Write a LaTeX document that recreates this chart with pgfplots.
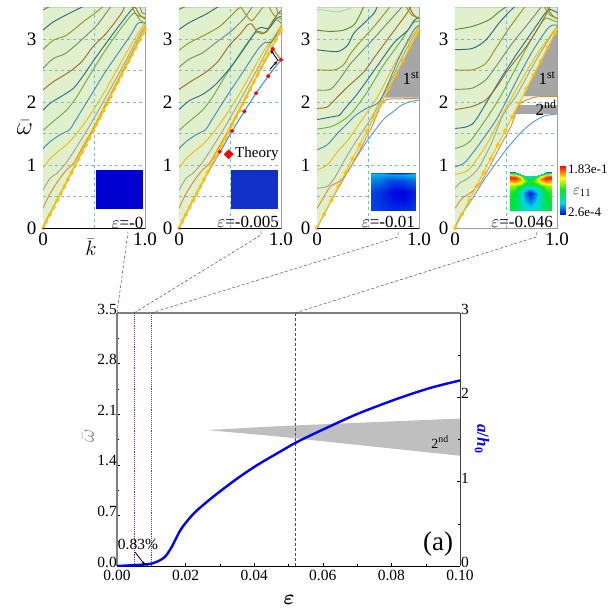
\documentclass[border=0pt]{standalone}
\usepackage{amsmath}
\usepackage{pgfplots}
\usepackage{pgfplotstable}
\usepackage{fontspec}
\setmainfont{Liberation Serif}
\pgfplotsset{compat=1.18}
\usetikzlibrary{arrows.meta}
\definecolor{c0}{HTML}{5B9BD5}
\definecolor{c1}{HTML}{E08A3C}
\definecolor{c2}{HTML}{A0A890}
\definecolor{c3}{HTML}{EDBE1A}
\definecolor{c4}{HTML}{4A8DB5}
\definecolor{c5}{HTML}{70AD47}
\definecolor{c6}{HTML}{2F6F90}
\definecolor{c7}{HTML}{A06E28}
\definecolor{c8}{HTML}{7E8C6C}
\definecolor{c9}{HTML}{9C9420}
\definecolor{c10}{HTML}{2D6C80}
\definecolor{c11}{HTML}{5F8C32}
\definecolor{lightg}{HTML}{E0F0CD}
\definecolor{gridc}{HTML}{7FB8DE}
\definecolor{gapg}{HTML}{A6A6A6}
\definecolor{purp}{HTML}{7030A0}
\definecolor{yel}{HTML}{FFC000}
\pgfplotsset{
  colormap={abq}{rgb255=(0,0,225) rgb255=(0,215,235) rgb255=(0,230,40) rgb255=(255,255,0) rgb255=(255,0,0)},
  panel/.style={
    at={(#1pt,380pt)},anchor=south west,scale only axis,width=102pt,height=220.5pt,
    xmin=0,xmax=1,ymin=0,ymax=3.5,
    xtick={0,1},xticklabels={0,1.0},ytick={0,1,2,3},
    major tick length=0pt,
    tick label style={font=\fontsize{19}{19}\selectfont},
    /pgf/number format/assume math mode=true,
    yticklabel style={xshift=-3pt},
    xticklabel style={yshift=-1pt},
    axis line style={draw=gray!75,line width=0.9pt},
    every axis plot/.append style={line width=0.95pt},
    axis on top=false,
    clip=true,
  },
  curve/.style={smooth,tension=0.45,color=#1,mark=none},
  inset/.style={anchor=south west,scale only axis,hide axis,view={0}{90},
    xmin=0,xmax=1,ymin=0,ymax=1,colormap name=abq,point meta min=0,point meta max=1},
}
\pgfplotstableread{
k w
0 0
0.035 0.11
0.07 0.22
0.105 0.33
0.14 0.44
0.175 0.55
0.21 0.66
0.245 0.77
0.28 0.88
0.315 0.99
0.35 1.10
0.385 1.21
0.42 1.32
0.455 1.43
0.49 1.54
0.525 1.65
0.56 1.76
0.595 1.87
0.63 1.98
0.665 2.09
0.70 2.21
0.735 2.32
0.77 2.43
0.805 2.54
0.84 2.65
0.875 2.76
0.91 2.87
0.945 2.98
0.98 3.09
1 3.15
}\lineT
\pgfplotstableread{
x t y z
0 1 0 0.08
0.25 0.995 0 0.07
0.5 0.985 0 0.05
0.75 0.985 0 0.06
1 1 0 0.08
0 1 0.3 0.08
0.25 0.995 0.3 0.05
0.5 0.985 0.3 0.02
0.75 0.985 0.3 0.01
1 1 0.3 0.05
0 1 0.5 0.09
0.25 0.995 0.5 0.05
0.5 0.985 0.5 0.01
0.75 0.985 0.5 0.00
1 1 0.5 0.05
0 1 0.8 0.16
0.25 0.995 0.8 0.13
0.5 0.985 0.8 0.09
0.75 0.985 0.8 0.10
1 1 0.8 0.14
0 1 0.95 0.22
0.25 0.995 0.95 0.21
0.5 0.985 0.95 0.19
0.75 0.985 0.95 0.20
1 1 0.95 0.23
0 1 1 0.05
0.25 0.995 1 0.05
0.5 0.985 1 0.05
0.75 0.985 1 0.05
1 1 1 0.05
}\tabC
\pgfplotstableread{
x t y z
0 1 0 0.45
0.125 0.98 0 0.42
0.25 0.94 0 0.38
0.375 0.90 0 0.32
0.5 0.885 0 0.30
0.625 0.90 0 0.32
0.75 0.94 0 0.38
0.875 0.98 0 0.42
1 1 0 0.45
0 1 0.15 0.50
0.125 0.98 0.15 0.45
0.25 0.94 0.15 0.36
0.375 0.90 0.15 0.26
0.5 0.885 0.15 0.22
0.625 0.90 0.15 0.26
0.75 0.94 0.15 0.36
0.875 0.98 0.15 0.45
1 1 0.15 0.50
0 1 0.3 0.52
0.125 0.98 0.3 0.46
0.25 0.94 0.3 0.34
0.375 0.90 0.3 0.20
0.5 0.885 0.3 0.12
0.625 0.90 0.3 0.20
0.75 0.94 0.3 0.34
0.875 0.98 0.3 0.46
1 1 0.3 0.52
0 1 0.5 0.55
0.125 0.98 0.5 0.50
0.25 0.94 0.5 0.34
0.375 0.90 0.5 0.15
0.5 0.885 0.5 0.02
0.625 0.90 0.5 0.15
0.75 0.94 0.5 0.34
0.875 0.98 0.5 0.50
1 1 0.5 0.55
0 1 0.64 0.66
0.125 0.98 0.64 0.62
0.25 0.94 0.64 0.46
0.375 0.90 0.64 0.30
0.5 0.885 0.64 0.20
0.625 0.90 0.64 0.30
0.75 0.94 0.64 0.46
0.875 0.98 0.64 0.62
1 1 0.64 0.66
0 1 0.76 0.85
0.125 0.98 0.76 0.84
0.25 0.94 0.76 0.72
0.375 0.90 0.76 0.50
0.5 0.885 0.76 0.42
0.625 0.90 0.76 0.50
0.75 0.94 0.76 0.72
0.875 0.98 0.76 0.84
1 1 0.76 0.85
0 1 0.86 0.98
0.125 0.98 0.86 0.98
0.25 0.94 0.86 0.88
0.375 0.90 0.86 0.60
0.5 0.885 0.86 0.50
0.625 0.90 0.86 0.60
0.75 0.94 0.86 0.88
0.875 0.98 0.86 0.98
1 1 0.86 0.98
0 1 0.94 0.72
0.125 0.98 0.94 0.80
0.25 0.94 0.94 0.72
0.375 0.90 0.94 0.52
0.5 0.885 0.94 0.42
0.625 0.90 0.94 0.52
0.75 0.94 0.94 0.72
0.875 0.98 0.94 0.80
1 1 0.94 0.72
0 1 1 0.10
0.125 0.98 1 0.14
0.25 0.94 1 0.18
0.375 0.90 1 0.22
0.5 0.885 1 0.26
0.625 0.90 1 0.22
0.75 0.94 1 0.18
0.875 0.98 1 0.14
1 1 1 0.10
}\tabD
\pgfplotstableread{
x y z
0 0 0
1 0 0
0 0.125 0.125
1 0.125 0.125
0 0.25 0.25
1 0.25 0.25
0 0.375 0.375
1 0.375 0.375
0 0.5 0.5
1 0.5 0.5
0 0.625 0.625
1 0.625 0.625
0 0.75 0.75
1 0.75 0.75
0 0.875 0.875
1 0.875 0.875
0 1 1
1 1 1
}\tabBar
\newcommand\backdrop{%
  \addplot[draw=none,fill=lightg] coordinates {(0,0)(1,3.15)(1,3.5)(0,3.5)};
}
\newcommand\gridl{%
  \addplot[gridc,dashed,line width=0.7pt] coordinates {(0,0.5)(1,0.5)};
  \addplot[gridc,dashed,line width=0.7pt] coordinates {(0,1)(1,1)};
  \addplot[gridc,dashed,line width=0.7pt] coordinates {(0,1.5)(1,1.5)};
  \addplot[gridc,dashed,line width=0.7pt] coordinates {(0,2)(1,2)};
  \addplot[gridc,dashed,line width=0.7pt] coordinates {(0,2.5)(1,2.5)};
  \addplot[gridc,dashed,line width=0.7pt] coordinates {(0,3)(1,3)};
  \addplot[gridc,dashed,line width=0.7pt] coordinates {(0.5,0)(0.5,3.5)};
}
\newcommand\denseY{%
  \addplot[yel,line width=1.3pt,mark=diamond*,mark size=1.6pt,mark options={solid,fill=yel,draw=yel}] table[x=k,y=w]{\lineT};
}
\newcommand\sparseY{%
  \addplot[yel,line width=1.1pt,mark=none] table[x=k,y=w]{\lineT};
  \addplot[yel,only marks,mark=o,mark size=1.7pt,each nth point=2,mark options={solid,line width=0.8pt}] table[x=k,y=w]{\lineT};
}
\begin{document}
\begin{tikzpicture}
\path[use as bounding box] (0pt,0pt) rectangle (610pt,608pt);
% ---------- panel 1
\begin{axis}[panel=43]
\backdrop
\gridl
\addplot[curve=c0] coordinates {(0,0)(0.03,0.12)(0.08,0.27)(0.2,0.64)(0.5,1.58)(0.8,2.53)(1,3.16)};
\addplot[curve=c1] coordinates {(0,0.31)(0.03,0.42)(0.07,0.55)(0.12,0.68)(0.17,0.8)(0.23,0.92)(0.3,1.03)(0.4,1.32)(0.5,1.61)(0.7,2.24)(0.9,2.87)(1,3.18)};
\addplot[curve=c2] coordinates {(0,0.6)(0.07,0.79)(0.13,0.86)(0.21,1)(0.3,1.21)(0.46,1.63)(0.6,2.03)(0.8,2.62)(0.95,3.08)(1,3.2)};
\addplot[curve=c3] coordinates {(0,0.95)(0.07,1.1)(0.167,1.24)(0.23,1.32)(0.33,1.5)(0.46,1.79)(0.6,2.15)(0.8,2.73)(0.95,3.14)(1,3.25)};
\addplot[curve=c4] coordinates {(0,1.26)(0.07,1.37)(0.167,1.48)(0.26,1.56)(0.32,1.71)(0.46,2.08)(0.62,2.5)(0.85,3.04)(0.93,3.25)(1,3.25)};
\addplot[curve=c5] coordinates {(0,1.55)(0.1,1.69)(0.23,1.87)(0.33,2.08)(0.43,2.35)(0.59,2.77)(0.75,3.14)(0.89,3.41)(0.95,3.3)(1,3.25)};
\addplot[curve=c6] coordinates {(0,1.87)(0.07,1.98)(0.17,2.08)(0.3,2.22)(0.4,2.43)(0.51,2.69)(0.69,3.09)(0.85,3.43)(0.9,3.52)};
\addplot[curve=c7] coordinates {(0,2.19)(0.1,2.32)(0.26,2.48)(0.38,2.64)(0.49,2.88)(0.62,3.09)(0.77,3.41)(0.8,3.52)};
\addplot[curve=c8] coordinates {(0,2.53)(0.1,2.69)(0.22,2.77)(0.36,2.96)(0.53,3.22)(0.64,3.46)(0.67,3.52)};
\addplot[curve=c9] coordinates {(0,2.83)(0.1,2.98)(0.23,3.06)(0.4,3.28)(0.51,3.41)(0.59,3.52)};
\addplot[curve=c10] coordinates {(0,3.14)(0.1,3.27)(0.26,3.41)(0.4,3.52)};
\addplot[curve=c11] coordinates {(0,3.46)(0.07,3.52)};
\addplot[curve=c7] coordinates {(0.9,3.52)(0.95,3.38)(1,3.32)};
\addplot[curve=c9] coordinates {(0.87,3.52)(0.92,3.38)(1,3.34)};
\addplot[curve=c8] coordinates {(0.95,3.52)(0.97,3.42)(1,3.4)};
\denseY
\addplot[draw=none,fill={rgb,255:red,0;green,0;blue,208}] coordinates {(0.517,0.3)(0.983,0.3)(0.983,0.92)(0.517,0.92)};
\end{axis}
% ---------- panel 2
\begin{axis}[panel=179]
\backdrop
\gridl
\addplot[curve=c0] coordinates {(0,0)(0.05,0.17)(0.2,0.64)(0.4,1.2)(0.52,1.54)(0.64,1.85)(0.755,2.14)(0.875,2.41)(1,2.67)};
\addplot[curve=c1] coordinates {(0,0.31)(0.03,0.42)(0.07,0.55)(0.12,0.68)(0.17,0.8)(0.23,0.92)(0.3,1.03)(0.4,1.31)(0.5,1.6)(0.7,2.22)(0.88,2.75)(0.92,2.84)};
\addplot[c1,mark=none] coordinates {(0.92,2.84)(1,2.67)};
\addplot[curve=c2] coordinates {(0,0.6)(0.07,0.79)(0.13,0.86)(0.21,1)(0.3,1.21)(0.46,1.63)(0.6,2.03)(0.8,2.62)(0.92,3)(1,3.2)};
\addplot[curve=c3] coordinates {(0,0.95)(0.07,1.1)(0.167,1.24)(0.23,1.32)(0.33,1.5)(0.46,1.79)(0.6,2.15)(0.8,2.72)(0.9,2.98)(0.95,3.05)(1,3.22)};
\addplot[curve=c4] coordinates {(0,1.26)(0.07,1.37)(0.167,1.48)(0.26,1.56)(0.32,1.71)(0.46,2.07)(0.62,2.46)(0.78,2.85)(0.85,2.95)(0.9,2.94)(0.95,3.05)(1,3.18)};
\addplot[curve=c5] coordinates {(0,1.55)(0.1,1.69)(0.23,1.87)(0.33,2.08)(0.43,2.35)(0.59,2.75)(0.72,3.05)(0.78,3.12)(0.85,3.1)(0.95,3.3)(1,3.25)};
\addplot[curve=c6] coordinates {(0,1.88)(0.1,2.02)(0.23,2.12)(0.36,2.28)(0.53,2.6)(0.69,2.97)(0.77,3.16)(0.82,3.18)(0.88,3.17)(0.95,3.32)(1,3.36)};
\addplot[curve=c7] coordinates {(0,2.2)(0.1,2.31)(0.26,2.47)(0.38,2.64)(0.49,2.89)(0.6,3.08)(0.67,3.22)(0.71,3.24)(0.76,3.13)(0.81,3.08)(0.86,3.13)(0.92,3.29)(0.98,3.42)(1,3.45)};
\addplot[curve=c8] coordinates {(0,2.55)(0.1,2.68)(0.23,2.78)(0.36,2.94)(0.53,3.15)(0.65,3.35)(0.72,3.52)};
\addplot[curve=c9] coordinates {(0,2.82)(0.1,2.94)(0.26,3.07)(0.4,3.2)(0.51,3.37)(0.6,3.5)(0.65,3.4)(0.71,3.29)(0.76,3.37)(0.83,3.52)};
\addplot[curve=c10] coordinates {(0,3.15)(0.1,3.26)(0.26,3.39)(0.39,3.52)};
\addplot[curve=c11] coordinates {(0,3.47)(0.07,3.52)};
\addplot[curve=c9] coordinates {(0.88,3.52)(0.93,3.38)(1,3.32)};
\addplot[curve=c8] coordinates {(0.95,3.52)(0.97,3.42)(1,3.4)};
\addplot[yel,line width=1.3pt,mark=diamond*,mark size=1.6pt,mark options={solid,fill=yel,draw=yel}] table[x=k,y=w]{\lineT};
\addplot[c0,mark=none] coordinates {(0.4,1.2)(0.52,1.54)(0.64,1.85)(0.755,2.14)(0.875,2.41)(1,2.67)};
\addplot[c1,mark=none,line width=1.3pt] coordinates {(0.92,2.84)(1,2.67)};
\addplot[only marks,mark=*,mark size=1.5pt,color=red] coordinates {(0.4,1.21)(0.52,1.54)(0.64,1.85)(0.755,2.14)(0.875,2.41)(1,2.67)(0.92,2.84)};
\addplot[only marks,mark=square*,mark size=3pt,color=red,mark options={rotate=45}] coordinates {(0.487,1.17)};
\addplot[draw=none,fill={rgb,255:red,16;green,48;blue,200}] coordinates {(0.513,0.3)(0.97,0.3)(0.97,0.92)(0.513,0.92)};
\end{axis}
% ---------- panel 3
\begin{axis}[panel=317]
\backdrop
\addplot[draw=none,fill=gapg] coordinates {(0.66,2.07)(1,3.15)(1,2.07)};
\gridl
\addplot[curve=c0] coordinates {(0,0)(0.1,0.31)(0.2,0.61)(0.36,1.05)(0.5,1.4)(0.65,1.72)(0.75,1.85)(0.81,1.93)(0.9,2)(1,2.03)};
\addplot[curve=c1] coordinates {(0,0.31)(0.07,0.5)(0.13,0.66)(0.22,0.74)(0.3,0.89)(0.4,1.18)(0.53,1.58)(0.6,1.85)(0.65,2.01)(0.72,2.05)(0.81,2.05)(1,2.06)};
\addplot[curve=c2] coordinates {(0,0.63)(0.1,0.66)(0.17,0.79)(0.26,1.05)(0.36,1.32)(0.53,1.74)(0.7,2.26)(0.85,2.76)(1,3.2)};
\addplot[curve=c3] coordinates {(0,0.92)(0.1,1)(0.2,1.21)(0.3,1.39)(0.4,1.62)(0.48,1.81)(0.6,2.1)(0.8,2.72)(1,3.2)};
\addplot[curve=c4] coordinates {(0,1.24)(0.1,1.32)(0.2,1.5)(0.3,1.66)(0.38,1.79)(0.485,1.9)(0.62,2.03)(0.81,2.72)(0.94,3.12)(1,3.22)};
\addplot[curve=c5] coordinates {(0,1.57)(0.157,1.62)(0.32,1.79)(0.485,2.14)(0.65,2.58)(0.81,2.94)(0.94,3.25)(1,3.28)};
\addplot[curve=c6] coordinates {(0,1.72)(0.13,1.76)(0.22,1.79)(0.26,1.87)(0.4,2.14)(0.59,2.57)(0.75,2.93)(0.89,3.14)(0.95,3.29)(1,3.35)};
\addplot[curve=c7] coordinates {(0,1.9)(0.1,1.92)(0.2,2.08)(0.3,2.24)(0.46,2.48)(0.59,2.77)(0.75,3.12)(0.87,3.38)(0.92,3.52)};
\addplot[curve=c8] coordinates {(0,2.19)(0.13,2.2)(0.23,2.38)(0.33,2.61)(0.53,2.96)(0.69,3.25)(0.84,3.52)};
\addplot[curve=c9] coordinates {(0,2.51)(0.17,2.51)(0.26,2.59)(0.33,2.77)(0.41,2.93)(0.56,3.2)(0.72,3.52)};
\addplot[curve=c10] coordinates {(0,2.83)(0.2,2.8)(0.3,2.9)(0.36,3.09)(0.46,3.25)(0.56,3.41)(0.59,3.52)};
\addplot[curve=c11] coordinates {(0,3.14)(0.13,3.12)(0.26,3.14)(0.36,3.22)(0.41,3.35)(0.46,3.52)};
\addplot[smooth,mark=none,color={rgb,255:red,168;green,213;blue,200}] coordinates {(0,3.47)(0.1,3.45)(0.2,3.43)(0.3,3.47)(0.37,3.52)};
\addplot[curve=c7] coordinates {(0.9,3.52)(0.95,3.38)(1,3.32)};
\addplot[curve=c9] coordinates {(0.87,3.52)(0.93,3.38)(1,3.33)};
\sparseY
\end{axis}
% ---------- panel 4
\begin{axis}[panel=455]
\backdrop
\addplot[draw=none,fill=gapg] coordinates {(0.67,2.09)(1,3.15)(1,2.09)};
\addplot[draw=none,fill=gapg] coordinates {(0.57,1.81)(0.62,1.95)(1,1.95)(1,1.81)};
\gridl
\addplot[curve=c0] coordinates {(0,0)(0.04,0.15)(0.17,0.47)(0.3,0.8)(0.5,1.24)(0.65,1.52)(0.765,1.68)(0.88,1.78)(1,1.81)};
\addplot[curve=c1] coordinates {(0,0.31)(0.07,0.47)(0.17,0.58)(0.25,0.72)(0.33,0.95)(0.45,1.32)(0.55,1.62)(0.6,1.85)(0.64,1.98)(0.7,2.03)(0.8,2.08)(1,2.09)};
\addplot[curve=c2] coordinates {(0,0.63)(0.05,0.72)(0.13,0.79)(0.23,0.95)(0.35,1.32)(0.47,1.79)(0.6,2.1)(0.8,2.68)(1,3.2)};
\addplot[curve=c3] coordinates {(0,0.85)(0.1,0.89)(0.17,0.99)(0.3,1.3)(0.4,1.6)(0.46,1.79)(0.6,2.2)(0.8,2.75)(1,3.2)};
\addplot[curve=c4] coordinates {(0,0.97)(0.08,1.02)(0.14,1.12)(0.3,1.47)(0.43,1.79)(0.6,2.33)(0.75,2.78)(0.9,3.15)(0.96,3.22)(1,3.22)};
\addplot[curve=c5] coordinates {(0,1.26)(0.1,1.32)(0.17,1.42)(0.33,1.79)(0.45,2.1)(0.6,2.55)(0.75,3)(0.88,3.32)(0.95,3.3)(1,3.27)};
\addplot[curve=c6] coordinates {(0,1.58)(0.1,1.6)(0.17,1.65)(0.23,1.78)(0.33,2.05)(0.46,2.4)(0.6,2.75)(0.75,3.1)(0.88,3.4)(0.93,3.47)(1,3.42)};
\addplot[curve=c7] coordinates {(0,1.88)(0.17,1.93)(0.3,2.03)(0.4,2.22)(0.53,2.53)(0.72,2.93)(0.89,3.38)(0.93,3.52)};
\addplot[curve=c8] coordinates {(0,2.2)(0.17,2.22)(0.3,2.35)(0.4,2.56)(0.56,2.93)(0.72,3.25)(0.85,3.52)};
\addplot[curve=c9] coordinates {(0,2.51)(0.17,2.51)(0.3,2.61)(0.4,2.85)(0.53,3.17)(0.69,3.52)};
\addplot[curve=c10] coordinates {(0,2.83)(0.17,2.85)(0.3,2.98)(0.43,3.25)(0.53,3.43)(0.59,3.52)};
\addplot[curve=c11] coordinates {(0,3.15)(0.17,3.2)(0.33,3.3)(0.43,3.43)(0.51,3.52)};
\addplot[curve=c7] coordinates {(0.9,3.52)(0.95,3.38)(1,3.32)};
\addplot[curve=c9] coordinates {(0.87,3.52)(0.93,3.38)(1,3.33)};
\sparseY
\end{axis}
% ---------- insets
\begin{axis}[inset,at={(370.7pt,397.3pt)},width=45pt,height=38.4pt]
\addplot3[surf,shader=interp,mesh/cols=5,point meta=\thisrow{z}] table[x=x,y expr=\thisrow{y}*\thisrow{t},z=z]{\tabC};
\end{axis}
\begin{axis}[inset,at={(509.3pt,397.3pt)},width=41.7pt,height=39pt]
\addplot3[surf,shader=interp,mesh/cols=9,point meta=\thisrow{z}] table[x=x,y expr=\thisrow{y}*\thisrow{t},z=z]{\tabD};
\end{axis}
\begin{axis}[inset,at={(559.3pt,393pt)},width=7.4pt,height=49.3pt]
\addplot3[surf,shader=interp,mesh/cols=2,point meta=\thisrow{z}] table[x=x,y=y,z=z]{\tabBar};
\end{axis}
% ---------- main plot, left axis
\begin{axis}[
  at={(117pt,42pt)},anchor=south west,scale only axis,width=343pt,height=253pt,
  xmin=0,xmax=0.1,ymin=0,ymax=3.5,
  axis x line*=bottom,axis y line*=left,
  xtick={0,0.02,0.04,0.06,0.08,0.1},
  xticklabels={0.00,0.02,0.04,0.06,0.08,0.10},
  minor x tick num=1,
  ytick={0,0.7,1.4,2.1,2.8,3.5},
  yticklabels={0.0,0.7,1.4,2.1,2.8,3.5},
  minor y tick num=1,
  tick align=inside,major tick length=3pt,minor tick length=2pt,
  tick style={black,line width=0.4pt},
  tick label style={font=\fontsize{15.5}{15.5}\selectfont},
  /pgf/number format/assume math mode=true,
  yticklabel style={yshift=4pt,inner sep=1pt,xshift=1pt},
  xticklabel style={yshift=-0.5pt},
  x axis line style={-,black,line width=0.9pt},
  y axis line style={-,gray,line width=1.5pt},
  clip=true,
]
\addplot[draw=none,fill={rgb,255:red,191;green,191;blue,191}] coordinates {(0.0265,1.88)(0.0473,1.935)(0.1,2.04)(0.1,1.525)(0.0473,1.79)};
\addplot[draw=purp,densely dotted,line width=1.1pt] coordinates {(0.005,0)(0.005,3.5)};
\addplot[draw=purp,densely dotted,line width=1.1pt] coordinates {(0.01,0)(0.01,3.5)};
\addplot[draw=purp,densely dashed,line width=0.7pt] coordinates {(0.0519,0)(0.0519,3.5)};
\end{axis}
% ---------- main plot, right axis
\begin{axis}[
  at={(117pt,42pt)},anchor=south west,scale only axis,width=343pt,height=253pt,
  xmin=0,xmax=0.1,ymin=0,ymax=3,
  axis y line*=right,axis x line=none,
  ytick={0,1,2,3},minor y tick num=1,
  tick align=inside,major tick length=3pt,minor tick length=2pt,
  tick style={black,line width=0.4pt},
  tick label style={font=\fontsize{15.5}{15.5}\selectfont},
  /pgf/number format/assume math mode=true,
  yticklabel style={yshift=3.5pt,inner sep=1pt,xshift=0pt},
  y axis line style={-,black!75,line width=0.9pt},
  clip=true,
]
\addplot[smooth,tension=0.5,blue,line width=2.4pt,mark=none] coordinates {(0,0)(0.0087,0.02)(0.0116,0.05)(0.014,0.11)(0.016,0.23)(0.0184,0.42)(0.0208,0.55)(0.0232,0.655)(0.028,0.82)(0.0348,1.03)(0.0406,1.19)(0.0473,1.35)(0.052,1.46)(0.057,1.56)(0.062,1.655)(0.0668,1.745)(0.0717,1.83)(0.0815,1.98)(0.0912,2.11)(0.1,2.2)};
\addplot[only marks,mark=o,mark size=2.2pt,black,mark options={line width=0.5pt},clip mode=individual] coordinates {(0.0083,0)};
\end{axis}
\begin{scope}[x=1pt,y=1pt]
\draw[gray,line width=1.5pt] (117,295) -- (460,295);
\draw[black,line width=0.9pt] (43,380) -- (145,380);
\draw[black,line width=0.9pt] (179,380) -- (281,380);
\draw[black,line width=0.9pt] (317,380) -- (419,380);
% ---------- connectors
\draw[purp,densely dashed,line width=0.5pt] (117,295) -- (128,376);
\draw[purp,densely dashed,line width=0.5pt] (134,295) -- (261,373) -- (261,378);
\draw[purp,densely dashed,line width=0.5pt] (151,295) -- (398,371) -- (398,376);
\draw[purp,densely dashed,line width=0.5pt] (295,295) -- (536,371) -- (537,376);
% ---------- text
\node[font=\fontsize{24}{24}\selectfont] at (25,480) {$\bar{\omega}$};
\node[font=\fontsize{20}{20}\selectfont] at (91,361) {$\bar{k}$};
\node[font=\fontsize{17}{17}\selectfont,anchor=east,inner sep=0pt] at (143.5,385) {$\varepsilon$=-0};
\node[font=\fontsize{17}{17}\selectfont,anchor=east,inner sep=0pt] at (279,386) {$\varepsilon$=-0.005};
\node[font=\fontsize{17}{17}\selectfont,anchor=east,inner sep=0pt] at (415,386) {$\varepsilon$=-0.01};
\node[font=\fontsize{17}{17}\selectfont,anchor=east,inner sep=0pt] at (553,386) {$\varepsilon$=-0.046};
\node[font=\fontsize{15}{15}\selectfont,anchor=west,inner sep=0pt] at (235,454) {Theory};
\node[font=\fontsize{17}{17}\selectfont] at (411,530) {1\textsuperscript{st}};
\node[font=\fontsize{17}{17}\selectfont] at (547,530) {1\textsuperscript{st}};
\node[font=\fontsize{17}{17}\selectfont] at (546,500) {2\textsuperscript{nd}};
\draw[-{Stealth[length=4pt]},black,line width=0.9pt] (270,538.7) -- (277.3,547);
\draw[-{Stealth[length=4pt]},black,line width=0.9pt] (278.3,547) -- (270.7,558);
\node[font=\fontsize{13}{13}\selectfont,anchor=west,inner sep=0pt] at (568,439) {1.83e-1};
\node[font=\fontsize{15}{15}\selectfont,anchor=west,inner sep=0pt] at (573,416) {$\varepsilon_{11}$};
\node[font=\fontsize{13}{13}\selectfont,anchor=west,inner sep=0pt] at (568,396) {2.6e-4};
\node[font=\fontsize{15.5}{15.5}\selectfont] at (138,64) {0.83\%};
\draw[-{Stealth[length=4pt]},black,line width=0.8pt] (135,56) -- (145,43);
\node[font=\fontsize{27}{27}\selectfont] at (438,64) {(a)};
\node[font=\fontsize{14}{14}\selectfont] at (440,166) {2\textsuperscript{nd}};
\node[font=\fontsize{20}{20}\selectfont,text=gray,rotate=90] at (88,172) {$\bar{\omega}$};
\node[font=\fontsize{17}{17}\selectfont\bfseries,text=blue,rotate=-90] at (482,169) {\textit{a}/\textit{h}$_{\mathbf{0}}$};
\node[font=\fontsize{22}{22}\selectfont] at (289,8) {$\boldsymbol{\varepsilon}$};
\end{scope}
\end{tikzpicture}
\end{document}
